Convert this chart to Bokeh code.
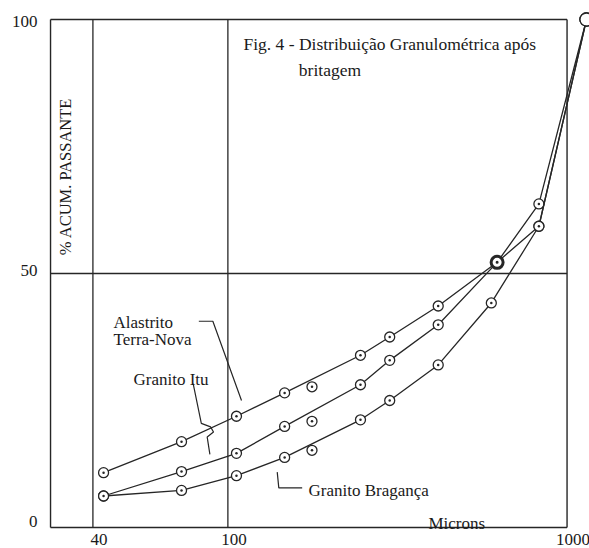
import math
from bokeh.plotting import figure
from bokeh.models import Range1d
from bokeh.core.properties import value
from bokeh.embed import file_html
from bokeh.resources import INLINE

# ---------------- data ----------------
# particle size (microns) and cumulative % passing
alastrito_x = [43, 73, 106, 147, 246, 300, 417, 622, 826, 1141]
alastrito_y = [10.8, 16.9, 21.9, 26.5, 33.9, 37.5, 43.6, 52.2, 59.3, 100]

itu_x = [43, 73, 106, 147, 246, 300, 417, 622, 826, 1141]
itu_y = [6.2, 11.0, 14.6, 19.9, 28.1, 32.9, 39.9, 52.2, 63.7, 100]

braganca_x = [43, 73, 106, 147, 246, 300, 417, 598, 826, 1141]
braganca_y = [6.2, 7.3, 10.2, 13.8, 21.2, 25.0, 32.0, 44.2, 59.3, 100]

# off-curve points measured at 177 microns (Alastrito, Itu, Bragança)
extra_x = [177, 177, 177]
extra_y = [27.7, 20.9, 15.2]

# common (emphasised) point
common_x = [622]
common_y = [52.2]

# axis limits, grid and tick labels
x_min, x_max = 30, 1000
y_min, y_max = 0, 100
x_grid = [40, 100]
y_grid = [50]
x_ticks = [40, 100, 1000]
x_tick_labels = ["40", "100", "1000"]
x_tick_label_y = -2.3
y_ticks = [0, 50, 100]
y_tick_labels = ["0", "50", "100"]
y_tick_label_y = [1.2, 50.6, 99.6]

# annotation texts
title_lines = ["Fig. 4 - Distribuição Granulométrica após", "britagem"]
title_x = [111.2, 161.9]
title_y = [95.2, 90.0]

label_text = ["Alastrito", "Terra-Nova", "Granito Itu", "Granito Bragança", "Microns"]
label_x = [46.0, 46.0, 52.7, 172.9, 390.3]
label_y = [40.4, 37.1, 29.1, 7.2, 0.85]

ylabel_text = "% ACUM. PASSANTE"
ylabel_pos = (33.2, 69.1)

# leader lines for the labels
alastrito_leader_x = [82.1, 90.3, 109.7]
alastrito_leader_y = [40.6, 40.6, 25.0]
itu_leader_x = [79.0, 83.5, 88.9, 90.7, 86.9, 88.5]
itu_leader_y = [28.3, 20.5, 19.8, 18.8, 17.8, 14.4]
braganca_leader_x = [139.8, 141.3, 165.6]
braganca_leader_y = [10.9, 7.8, 7.8]

# ---------------- figure ----------------
INK = "#262626"
FONT = value("Liberation Serif")

p = figure(width=589, height=548, x_axis_type="log",
           x_range=Range1d(21.36, 1164.6), y_range=Range1d(-4.134, 103.74),
           x_axis_location=None, y_axis_location=None,
           toolbar_location=None, output_backend="svg",
           min_border=0, outline_line_color=None,
           background_fill_color="white", border_fill_color="white")
p.xgrid.visible = False
p.ygrid.visible = False

# frame
p.segment(x0=[x_min, x_min, x_min, x_max], y0=[y_min, y_max, y_min, y_min],
          x1=[x_max, x_max, x_min, x_max], y1=[y_min, y_max, y_max, y_max],
          line_color=INK, line_width=1.4)
# grid lines
p.segment(x0=x_grid, y0=[y_min] * len(x_grid), x1=x_grid, y1=[y_max] * len(x_grid),
          line_color=INK, line_width=1.3)
p.segment(x0=[x_min] * len(y_grid), y0=y_grid, x1=[x_max] * len(y_grid), y1=y_grid,
          line_color=INK, line_width=1.3)

# curves
for xs, ys in [(alastrito_x, alastrito_y), (itu_x, itu_y), (braganca_x, braganca_y)]:
    p.line(xs, ys, line_color=INK, line_width=1.3)
    p.scatter(xs[:-1], ys[:-1], marker="circle_dot", size=10, line_color=INK,
              line_width=1.3, fill_color="white")
    p.scatter(xs[-1:], ys[-1:], marker="circle", size=13, line_color=INK,
              line_width=1.3, fill_color="white")

p.scatter(extra_x, extra_y, marker="circle_dot", size=10, line_color=INK,
          line_width=1.3, fill_color="white")
p.scatter(common_x, common_y, marker="circle_dot", size=12, line_color=INK,
          line_width=3, fill_color="white")

# leader lines
for xs, ys in [(alastrito_leader_x, alastrito_leader_y), (itu_leader_x, itu_leader_y),
               (braganca_leader_x, braganca_leader_y)]:
    p.line(xs, ys, line_color=INK, line_width=1.2)

# texts
common_text = dict(text_font=FONT, text_color="#1a1a1a")
p.text(x=title_x, y=title_y, text=title_lines, text_font_size=value("17.5px"),
       text_align="left", text_baseline="alphabetic", **common_text)
p.text(x=label_x, y=label_y, text=label_text, text_font_size=value("17px"),
       text_align="left", text_baseline="alphabetic", **common_text)
p.text(x=[ylabel_pos[0]], y=[ylabel_pos[1]], text=[ylabel_text], angle=math.pi / 2,
       text_font_size=value("16.5px"), text_align="center", text_baseline="middle",
       **common_text)
p.text(x=x_ticks, y=[x_tick_label_y] * len(x_ticks), text=x_tick_labels, x_offset=6,
       text_font_size=value("17px"), text_align="center", text_baseline="alphabetic",
       **common_text)
p.text(x=[x_min] * len(y_ticks), y=y_tick_label_y, text=y_tick_labels, x_offset=-13,
       text_font_size=value("17px"), text_align="right", text_baseline="middle",
       **common_text)

open("out.html", "w").write(file_html(p, INLINE))
